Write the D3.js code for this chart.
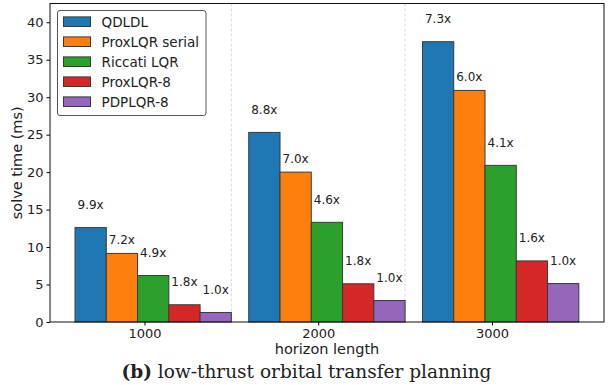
<!DOCTYPE html>
<html>
<head>
<meta charset="utf-8">
<script src="https://cdn.jsdelivr.net/npm/d3@7"></script>
<style>
  body { margin: 0; background: #fff; }
  text { font-family: "DejaVu Sans", sans-serif; fill: #222; }
</style>
</head>
<body>
<div id="chart"></div>
<script>
// data
const horizons = ['1000', '2000', '3000'];
const solvers = ['QDLDL', 'ProxLQR serial', 'Riccati LQR', 'ProxLQR-8', 'PDPLQR-8'];
const qdldl = [12.6, 25.3, 37.4];
const proxSerial = [9.15, 20.0, 30.9];
const riccati = [6.2, 13.3, 20.9];
const prox8 = [2.3, 5.1, 8.15];
const pdplqr8 = [1.27, 2.87, 5.13];
const speedups = [
  ['9.9x', '8.8x', '7.3x'],
  ['7.2x', '7.0x', '6.0x'],
  ['4.9x', '4.6x', '4.1x'],
  ['1.8x', '1.8x', '1.6x'],
  ['1.0x', '1.0x', '1.0x']
];
const yTicks = [0, 5, 10, 15, 20, 25, 30, 35, 40];

const series = [qdldl, proxSerial, riccati, prox8, pdplqr8];
const colors = ['#1f77b4', '#ff7f0e', '#2ca02c', '#d62728', '#9467bd'];

const width = 612;
const height = 385;
const plotL = 50, plotR = 604, plotT = 3.5, plotB = 322;
const barW = 0.18;

const svg = d3.select('#chart')
    .append('svg')
    .attr('width', width)
    .attr('height', height);

const xScale = d3.scaleLinear()
    .domain([-0.544, 2.645])
    .range([plotL, plotR]);

const yScale = d3.scaleLinear()
    .domain([0, 42.5])
    .range([plotB, plotT]);

// separators between groups
svg.selectAll('line.sep')
    .data([0.5, 1.5])
    .enter()
    .append('line')
    .attr('class', 'sep')
    .attr('x1', d => xScale(d))
    .attr('x2', d => xScale(d))
    .attr('y1', plotT)
    .attr('y2', plotB)
    .attr('stroke', '#cfcfcf')
    .attr('stroke-width', 0.8)
    .attr('stroke-dasharray', '3,2');

// bars
series.forEach((vals, j) => {
    svg.selectAll('rect.s' + j)
        .data(vals)
        .enter()
        .append('rect')
        .attr('class', 's' + j)
        .attr('x', (d, i) => xScale(i - 0.4 + j * barW))
        .attr('y', d => yScale(d))
        .attr('width', xScale(barW) - xScale(0))
        .attr('height', d => plotB - yScale(d))
        .attr('fill', colors[j])
        .attr('stroke', '#3a3a3a')
        .attr('stroke-width', 1);

    svg.selectAll('text.l' + j)
        .data(vals)
        .enter()
        .append('text')
        .attr('class', 'l' + j)
        .attr('x', (d, i) => xScale(i - 0.4 + j * barW) + 2.5)
        .attr('y', d => yScale(d) - (j === 1 ? 9.5 : 18.8))
        .attr('font-size', '12px')
        .text((d, i) => speedups[j][i]);
});

// axes
const yAxis = d3.axisLeft(yScale)
    .tickValues(yTicks)
    .tickSizeOuter(0)
    .tickSize(3.5)
    .tickPadding(3);

const xAxis = d3.axisBottom(xScale)
    .tickValues([0, 1, 2])
    .tickFormat(i => horizons[i])
    .tickSizeOuter(0)
    .tickSize(3.5)
    .tickPadding(3);

svg.append('g')
    .attr('transform', `translate(${plotL},0)`)
    .call(yAxis)
    .call(g => g.select('.domain').remove())
    .selectAll('text')
    .attr('font-size', '13px')
    .attr('font-family', 'DejaVu Sans')
    .attr('fill', '#222');

svg.append('g')
    .attr('transform', `translate(0,${plotB})`)
    .call(xAxis)
    .call(g => g.select('.domain').remove())
    .selectAll('text')
    .attr('font-size', '13px')
    .attr('font-family', 'DejaVu Sans')
    .attr('fill', '#222');

// frame
svg.append('rect')
    .attr('x', plotL)
    .attr('y', plotT)
    .attr('width', plotR - plotL)
    .attr('height', plotB - plotT)
    .attr('fill', 'none')
    .attr('stroke', '#111')
    .attr('stroke-width', 1);

// axis titles
svg.append('text')
    .attr('transform', `translate(22,${(plotT + plotB) / 2}) rotate(-90)`)
    .attr('text-anchor', 'middle')
    .attr('font-size', '14.5px')
    .text('solve time (ms)');

svg.append('text')
    .attr('x', (plotL + plotR) / 2)
    .attr('y', 354)
    .attr('text-anchor', 'middle')
    .attr('font-size', '14.5px')
    .text('horizon length');

// caption
const cap = svg.append('text')
    .attr('x', 306.5)
    .attr('y', 378)
    .attr('text-anchor', 'middle')
    .attr('font-size', '18.5px')
    .style('font-family', '"DejaVu Serif", serif');
cap.append('tspan').attr('font-weight', 'bold').text('(b)');
cap.append('tspan').text(' low-thrust orbital transfer planning');

// legend
const legend = svg.append('g');
legend.append('rect')
    .attr('x', 57.5)
    .attr('y', 10.5)
    .attr('width', 148.5)
    .attr('height', 105)
    .attr('rx', 2.5)
    .attr('fill', '#fff')
    .attr('fill-opacity', 0.8)
    .attr('stroke', '#555')
    .attr('stroke-width', 1);

const items = legend.selectAll('g.item')
    .data(solvers)
    .enter()
    .append('g')
    .attr('class', 'item')
    .attr('transform', (d, i) => `translate(63.5,${21.7 + i * 20})`);

items.append('rect')
    .attr('x', 0)
    .attr('y', -4.8)
    .attr('width', 27)
    .attr('height', 9.6)
    .attr('fill', (d, i) => colors[i])
    .attr('stroke', '#3a3a3a')
    .attr('stroke-width', 1);

items.append('text')
    .attr('x', 38)
    .attr('y', 4.8)
    .attr('font-size', '13.5px')
    .text(d => d);
</script>
</body>
</html>
